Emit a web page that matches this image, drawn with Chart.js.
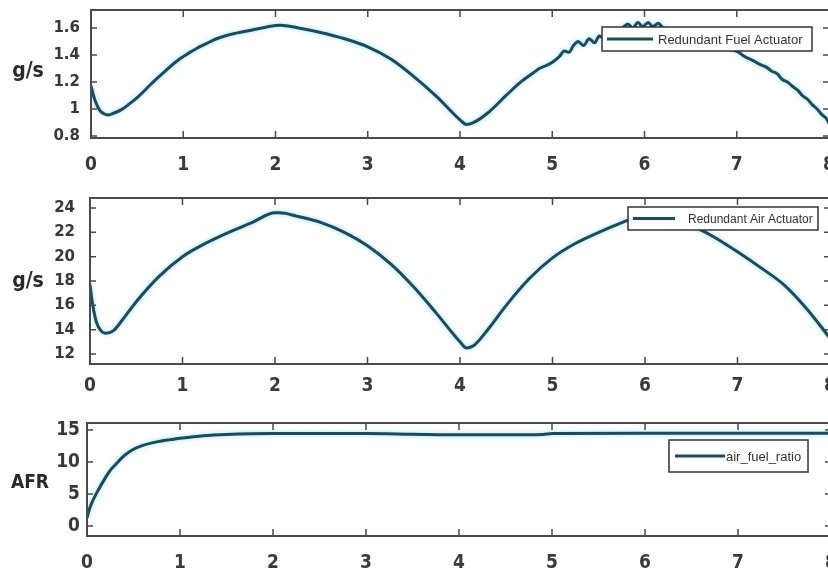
<!DOCTYPE html>
<html>
<head>
<meta charset="utf-8">
<script src="https://cdn.jsdelivr.net/npm/chart.js@4.4.1/dist/chart.umd.min.js"></script>
<style>
  html, body { margin: 0; padding: 0; background: #ffffff; }
  #wrap { position: relative; width: 828px; height: 578px; overflow: hidden; background: #fff; }
  canvas { position: absolute; left: 0; }
</style>
</head>
<body>
<div id="wrap">
  <canvas id="c1" width="834" height="180" style="top:0px"></canvas>
  <canvas id="c2" width="834" height="215" style="top:180px"></canvas>
  <canvas id="c3" width="834" height="178" style="top:400px"></canvas>
</div>
<script>
// ---------- data ----------
const xTicks = [0, 1, 2, 3, 4, 5, 6, 7, 8];

const fuelTime = [0, 0.04, 0.095, 0.14, 0.185, 0.25, 0.33, 0.42, 0.51, 0.6, 0.69, 0.78, 0.87, 0.96, 1.05, 1.15, 1.24, 1.36, 1.5, 1.75, 2.0, 2.05, 2.25, 2.5, 2.75, 3.0, 3.25, 3.5, 3.75, 4.0, 4.07, 4.15, 4.3, 4.5, 4.66, 4.8, 4.86, 4.93, 5.01, 5.08, 5.13, 5.18, 5.23, 5.28, 5.34, 5.4, 5.46, 5.51, 5.57, 5.63, 5.7, 5.76, 5.82, 5.87, 5.93, 5.98, 6.04, 6.09, 6.15, 6.2, 6.3, 6.45, 6.6, 6.75, 6.9, 7.02, 7.08, 7.14, 7.2, 7.25, 7.32, 7.38, 7.44, 7.49, 7.55, 7.6, 7.66, 7.71, 7.77, 7.82, 7.87, 7.92, 7.97, 8.0];
const fuelValues = [1.17, 1.07, 0.99, 0.965, 0.956, 0.97, 0.995, 1.04, 1.09, 1.15, 1.21, 1.265, 1.32, 1.37, 1.41, 1.45, 1.48, 1.52, 1.55, 1.585, 1.618, 1.62, 1.60, 1.565, 1.52, 1.46, 1.37, 1.24, 1.09, 0.92, 0.885, 0.90, 0.97, 1.10, 1.20, 1.27, 1.30, 1.32, 1.35, 1.39, 1.43, 1.42, 1.47, 1.50, 1.47, 1.52, 1.49, 1.54, 1.52, 1.56, 1.58, 1.60, 1.63, 1.60, 1.64, 1.61, 1.64, 1.61, 1.635, 1.60, 1.58, 1.56, 1.53, 1.49, 1.45, 1.42, 1.39, 1.37, 1.35, 1.33, 1.31, 1.28, 1.26, 1.22, 1.20, 1.17, 1.14, 1.10, 1.07, 1.03, 1.00, 0.96, 0.93, 0.895];
const fuelTicks = [0.8, 1, 1.2, 1.4, 1.6];
const fuelTickLabels = ['0.8', '1', '1.2', '1.4', '1.6'];

const airTime = [0, 0.03, 0.07, 0.12, 0.17, 0.25, 0.35, 0.5, 0.75, 1.0, 1.25, 1.5, 1.75, 2.0, 2.05, 2.25, 2.5, 2.75, 3.0, 3.25, 3.5, 3.75, 4.0, 4.07, 4.15, 4.3, 4.5, 4.75, 5.0, 5.25, 5.5, 5.75, 6.0, 6.1, 6.25, 6.5, 6.6, 6.75, 7.0, 7.25, 7.5, 7.75, 8.0];
const airValues = [17.7, 16.0, 14.6, 13.9, 13.7, 13.9, 14.8, 16.3, 18.4, 20.0, 21.1, 22.0, 22.8, 23.6, 23.6, 23.3, 22.8, 22.0, 20.9, 19.4, 17.5, 15.3, 13.0, 12.5, 12.7, 14.0, 16.0, 18.2, 19.9, 21.1, 22.0, 22.8, 23.5, 23.6, 23.3, 22.5, 22.2, 21.6, 20.4, 19.1, 17.7, 15.7, 13.3];
const airTicks = [12, 14, 16, 18, 20, 22, 24];
const airTickLabels = ['12', '14', '16', '18', '20', '22', '24'];

const afrTime = [0, 0.03, 0.07, 0.12, 0.2, 0.25, 0.3, 0.4, 0.5, 0.6, 0.7, 0.8, 0.9, 1.0, 1.25, 1.5, 2.0, 3.0, 3.5, 4.0, 4.5, 4.9, 5.0, 6.0, 7.0, 8.0];
const afrValues = [1.3, 2.8, 4.2, 5.6, 7.6, 8.7, 9.5, 11.0, 12.0, 12.6, 13.0, 13.3, 13.5, 13.7, 14.1, 14.3, 14.45, 14.45, 14.35, 14.25, 14.25, 14.3, 14.45, 14.5, 14.5, 14.5];
const afrTicks = [0, 5, 10, 15];
const afrTickLabels = ['0', '5', '10', '15'];

const seriesNames = ['Redundant Fuel Actuator', 'Redundant Air Actuator', 'air_fuel_ratio'];
const yTitles = ['g/s', 'g/s', 'AFR'];

// ---------- styling ----------
const LINE = '#1c4b5d';
const FRAME = '#4a4a4a';
const NARROW = "'Liberation Sans Narrow', 'DejaVu Sans Condensed', sans-serif";

function pts(xs, ys) { return xs.map((t, i) => ({ x: t, y: ys[i] })); }

const framePlugin = {
  id: 'frame',
  beforeDatasetsDraw(chart) {
    const ctx = chart.ctx;
    ctx.save();
    ctx.shadowColor = 'rgba(110,215,240,0.75)';
    ctx.shadowBlur = 4;
  },
  afterDatasetsDraw(chart) {
    chart.ctx.restore();
  },
  afterDraw(chart, args, o) {
    const { ctx, chartArea: a, scales } = chart;
    const x = scales.x, y = scales.y;
    ctx.save();
    // axes box
    ctx.strokeStyle = FRAME;
    ctx.lineWidth = 2;
    ctx.strokeRect(a.left, a.top, a.right - a.left, a.bottom - a.top);
    // inward tick marks
    ctx.lineWidth = 1.5;
    ctx.beginPath();
    x.ticks.forEach(t => {
      const px = x.getPixelForValue(t.value);
      ctx.moveTo(px, a.bottom); ctx.lineTo(px, a.bottom - 7);
      ctx.moveTo(px, a.top); ctx.lineTo(px, a.top + 7);
    });
    y.ticks.forEach(t => {
      const py = y.getPixelForValue(t.value);
      ctx.moveTo(a.left, py); ctx.lineTo(a.left + 6, py);
      ctx.moveTo(a.right, py); ctx.lineTo(a.right - 6, py);
    });
    ctx.stroke();
    // legend box
    const L = o.legend;
    ctx.fillStyle = '#ffffff';
    ctx.fillRect(L.x, L.y, L.w, L.h);
    ctx.strokeStyle = '#333333';
    ctx.lineWidth = 1.5;
    ctx.strokeRect(L.x, L.y, L.w, L.h);
    const midY = L.y + L.h / 2;
    ctx.strokeStyle = LINE;
    ctx.lineWidth = 3;
    ctx.beginPath();
    ctx.moveTo(L.lx0, midY); ctx.lineTo(L.lx1, midY);
    ctx.stroke();
    ctx.fillStyle = '#333333';
    ctx.font = L.font;
    ctx.textBaseline = 'middle';
    ctx.textAlign = 'left';
    ctx.fillText(chart.data.datasets[0].label, L.tx, midY + 1);
    // y title (horizontal)
    const T = o.title;
    ctx.fillStyle = '#2a2a2a';
    ctx.font = T.font;
    ctx.textAlign = 'center';
    ctx.textBaseline = 'alphabetic';
    ctx.fillText(T.text, T.x, T.y);
    ctx.restore();
  }
};

function makeChart(id, cfg) {
  const xTickFont = { family: NARROW, size: 19, weight: 'bold' };
  return new Chart(document.getElementById(id), {
    type: 'line',
    data: {
      datasets: [{
        label: cfg.name,
        data: pts(cfg.time, cfg.values),
        borderColor: LINE,
        borderWidth: 3,
        pointRadius: 0,
        fill: false,
        cubicInterpolationMode: 'monotone'
      }]
    },
    options: {
      responsive: false,
      animation: false,
      events: [],
      layout: { padding: { top: cfg.top, right: cfg.padRight, left: 0, bottom: 0 } },
      plugins: {
        legend: { display: false },
        tooltip: { enabled: false },
        frame: { legend: cfg.legend, title: cfg.title }
      },
      scales: {
        x: {
          type: 'linear',
          min: 0, max: 8,
          afterBuildTicks: s => { s.ticks = xTicks.map(v => ({ value: v })); },
          afterFit: s => { s.height = cfg.xHeight; s.paddingLeft = 0; s.paddingRight = 0; },
          grid: { display: false, drawTicks: false },
          border: { display: false },
          ticks: {
            padding: cfg.xPad,
            color: '#3a3a3a',
            font: xTickFont,
            maxRotation: 0,
            autoSkip: false,
            callback: v => String(v)
          }
        },
        y: {
          type: 'linear',
          min: cfg.yMin, max: cfg.yMax,
          afterBuildTicks: s => { s.ticks = cfg.yTicks.map(v => ({ value: v })); },
          afterFit: s => { s.width = cfg.left; s.paddingTop = 0; s.paddingBottom = 0; },
          grid: { display: false, drawTicks: false },
          border: { display: false },
          ticks: {
            padding: cfg.yPad,
            color: '#383838',
            font: cfg.yFont,
            autoSkip: false,
            callback: (v) => {
              const i = cfg.yTicks.indexOf(v);
              return i >= 0 ? cfg.yLabels[i] : '';
            }
          }
        }
      }
    },
    plugins: [framePlugin]
  });
}

const wideBold = { family: "'DejaVu Sans', sans-serif", size: 15, weight: 'bold' };

makeChart('c1', {
  name: seriesNames[0], time: fuelTime, values: fuelValues,
  yTicks: fuelTicks, yLabels: fuelTickLabels, yMin: 0.785, yMax: 1.733,
  top: 10, padRight: 5, left: 91, xHeight: 42, xPad: 16, yPad: 11, yFont: wideBold,
  legend: { x: 602, y: 27, w: 210, h: 24, lx0: 607, lx1: 653, tx: 658, font: "13px 'Liberation Sans', Arial, sans-serif" },
  title: { text: yTitles[0], x: 28, y: 77, font: "bold 21px " + NARROW }
});

makeChart('c2', {
  name: seriesNames[1], time: airTime, values: airValues,
  yTicks: airTicks, yLabels: airTickLabels, yMin: 11.18, yMax: 24.82,
  top: 18, padRight: 4, left: 90, xHeight: 31, xPad: 11, yPad: 15, yFont: wideBold,
  legend: { x: 628, y: 27, w: 190, h: 23, lx0: 633, lx1: 675, tx: 688, font: "12px 'Liberation Sans', Arial, sans-serif" },
  title: { text: yTitles[1], x: 28, y: 107, font: "bold 21px " + NARROW }
});

makeChart('c3', {
  name: seriesNames[2], time: afrTime, values: afrValues,
  yTicks: afrTicks, yLabels: afrTickLabels, yMin: -1.56, yMax: 16.1,
  top: 23, padRight: 3, left: 87, xHeight: 42, xPad: 16, yPad: 7,
  yFont: { family: NARROW, size: 19, weight: 'bold' },
  legend: { x: 669, y: 40, w: 139, h: 32, lx0: 675, lx1: 725, tx: 726, font: "13px 'Liberation Sans Narrow', 'Liberation Sans', sans-serif" },
  title: { text: yTitles[2], x: 30, y: 88, font: "bold 19px " + NARROW }
});
</script>
</body>
</html>
